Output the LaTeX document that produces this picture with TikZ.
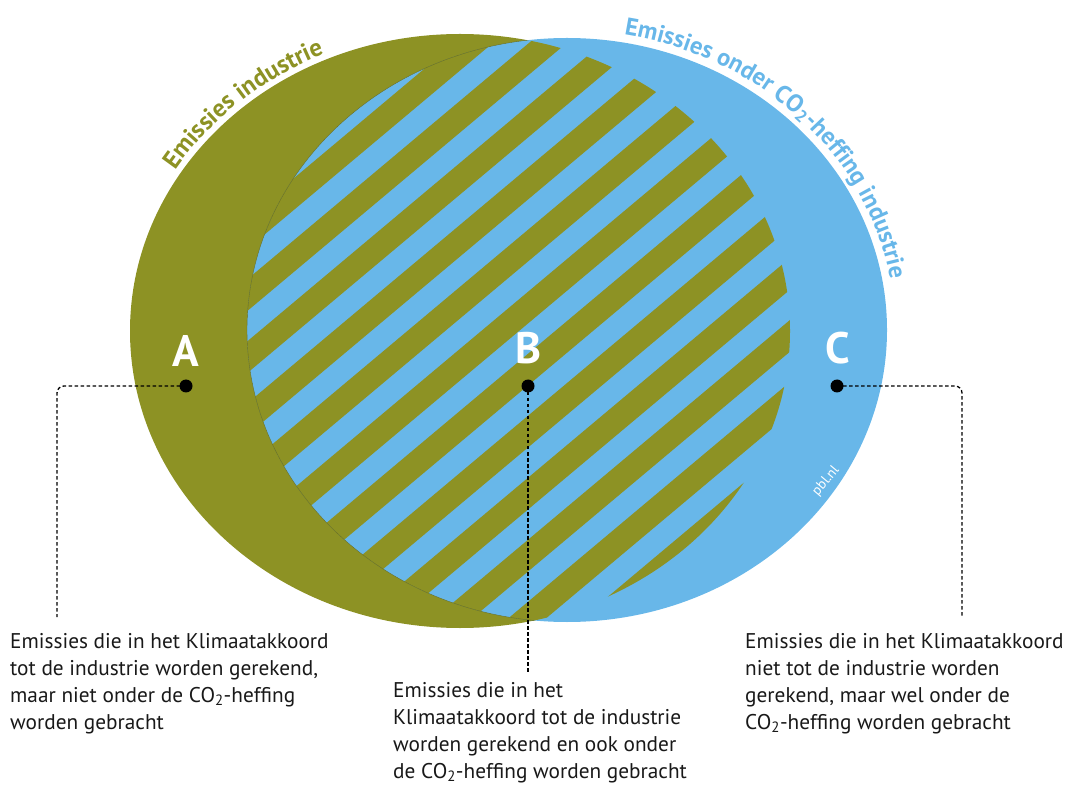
\documentclass[tikz,border=0pt]{standalone}
\usepackage{fontspec}
\setmainfont{PT Sans}
\usetikzlibrary{decorations.text}
\definecolor{olv}{RGB}{141,146,36}
\definecolor{sky}{RGB}{104,183,233}
\begin{document}
\begin{tikzpicture}[x=1pt,y=1pt,
  letter/.style={text=white,font=\bfseries\fontsize{44}{44}\selectfont,inner sep=0pt},
  dot/.style={circle,fill=black,inner sep=0pt,minimum size=13pt},
  dotline/.style={line width=1.3pt,dash pattern=on 3.5pt off 2.5pt,rounded corners=7pt},
  desc/.style={anchor=north west,inner sep=0pt,align=left,font=\fontsize{21.3}{27}\selectfont,text=black!90}
]
\useasboundingbox (0,0) rectangle (1067,785);
% ellipses
\fill[olv] (460,454) ellipse [x radius=330pt, y radius=297pt];
\fill[sky] (567,455) ellipse [x radius=320pt, y radius=292pt];
% stripes in the overlap
\begin{scope}
  \clip (460,454) ellipse [x radius=330pt, y radius=297pt];
  \clip (567,455) ellipse [x radius=320pt, y radius=292pt];
  \foreach \k in {2,...,20}{
    \fill[olv] (200,{900-62*\k}) -- (850,{1445.4-62*\k}) -- (850,{1413.7-62*\k}) -- (200,{868.3-62*\k}) -- cycle;
  }
\end{scope}
\begin{scope}
  \clip (460,454) ellipse [x radius=330pt, y radius=297pt];
  \draw[olv!75!black,line width=0.4pt] (567,455) ellipse [x radius=320pt, y radius=292pt];
\end{scope}
% arc labels
\path[decorate,decoration={text along path,text color=olv,
  text={|\bfseries\fontsize{25}{25}\selectfont|Emissies industrie}}]
  (175.1,614.6) arc[start angle=148, end angle=90, x radius=336pt, y radius=303pt];
\path[decorate,decoration={text along path,text color=sky,
  text={|\bfseries\fontsize{24.5}{24.5}\selectfont|Emissies onder CO{\textsubscript{2}}-heffing industrie}}]
  (624.0,750.4) arc[start angle=80, end angle=-15, x radius=328pt, y radius=300pt];
% letters
\node[letter] (A) at (186,434) {A};
\node[letter] (B) at (528,437) {B};
\node[letter] (C) at (838,437) {C};
\node[dot] (dA) at (186,399) {};
\node[dot] (dB) at (528,399) {};
\node[dot] (dC) at (837,399) {};
\node[rotate=50,text=white,inner sep=0pt,font=\fontsize{14}{14}\selectfont] (pbl) at (826,304) {pbl.nl};
% connectors
\coordinate (aEnd) at (57,168);
\coordinate (bEnd) at (528,113);
\coordinate (cEnd) at (962,167);
\draw[dotline] (dA.center) -| (aEnd);
\draw[dotline] (dB.center) -- (bEnd);
\draw[dotline] (dC.center) -| (cEnd);
% descriptions
\node[desc] (tA) at (10,152) {Emissies die in het Klimaatakkoord\\tot de industrie worden gerekend,\\maar niet onder de CO\textsubscript{2}-heffing\\worden gebracht};
\node[desc] (tB) at (393,103) {Emissies die in het\\Klimaatakkoord tot de industrie\\worden gerekend en ook onder\\de CO\textsubscript{2}-heffing worden gebracht};
\node[desc] (tC) at (745,152) {Emissies die in het Klimaatakkoord\\niet tot de industrie worden\\gerekend, maar wel onder de\\CO\textsubscript{2}-heffing worden gebracht};
\end{tikzpicture}
\end{document}
